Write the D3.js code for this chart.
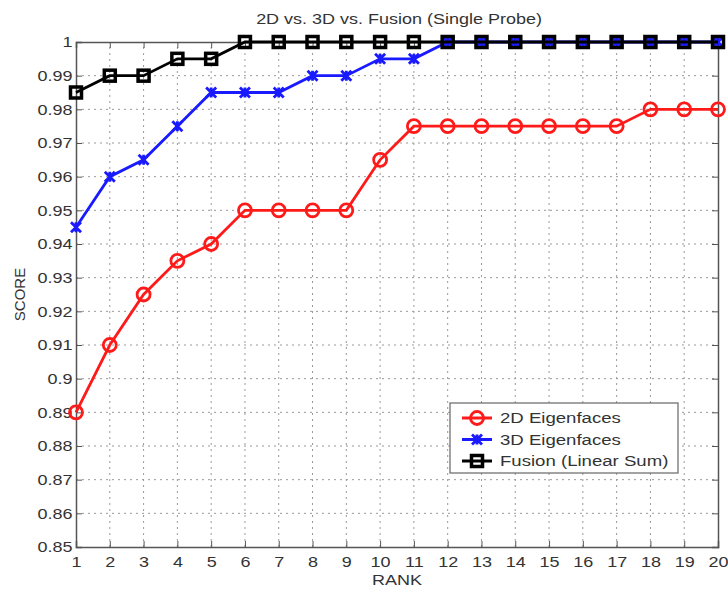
<!DOCTYPE html>
<html>
<head>
<meta charset="utf-8">
<title>2D vs. 3D vs. Fusion</title>
<style>
  body { margin: 0; background: #fff; }
  svg text { font-family: "Liberation Sans", Arial, sans-serif; fill: #333; }
  .grid line { stroke: #999; stroke-dasharray: 2,4; stroke-width: 1; }
  .axis path, .axis line { stroke: #555; }
</style>
</head>
<body>
<script src="https://cdnjs.cloudflare.com/ajax/libs/d3/7.8.5/d3.min.js"></script>
<script>
// データ
var ranks = d3.range(1, 21);
var yTicks = [0.85, 0.86, 0.87, 0.88, 0.89, 0.9, 0.91, 0.92, 0.93, 0.94, 0.95, 0.96, 0.97, 0.98, 0.99, 1];
var score2D = [0.89, 0.91, 0.925, 0.935, 0.94, 0.95, 0.95, 0.95, 0.95, 0.965, 0.975, 0.975, 0.975, 0.975, 0.975, 0.975, 0.975, 0.98, 0.98, 0.98];
var score3D = [0.945, 0.96, 0.965, 0.975, 0.985, 0.985, 0.985, 0.99, 0.99, 0.995, 0.995, 1, 1, 1, 1, 1, 1, 1, 1, 1];
var scoreFusion = [0.985, 0.99, 0.99, 0.995, 0.995, 1, 1, 1, 1, 1, 1, 1, 1, 1, 1, 1, 1, 1, 1, 1];
var seriesNames = ["2D Eigenfaces", "3D Eigenfaces", "Fusion (Linear Sum)"];
var seriesColors = ["#ff1a1a", "#1a1aff", "#000000"];
var titleText = "2D vs. 3D vs. Fusion (Single Probe)";

var width = 728, height = 589;
var margin = {left: 76, top: 42, right: 10, bottom: 42};
var sx = 1.2; // 元画像は横に引き伸ばされている

var svg = d3.select("body").append("svg")
    .attr("width", width)
    .attr("height", height);

var xScale = d3.scaleLinear().domain([1, 20]).range([margin.left, width - margin.right]);
var yScale = d3.scaleLinear().domain([0.85, 1]).range([height - margin.bottom, margin.top]);

// 横伸ばしテキスト
function wideText(parent, x, y, size, str, anchor) {
    return parent.append("text")
        .attr("x", x / sx).attr("y", y)
        .attr("transform", "scale(" + sx + ",1)")
        .attr("text-anchor", anchor || "start")
        .attr("font-size", size)
        .text(str);
}

// グリッド
svg.append("g").attr("class", "grid")
    .selectAll("line.v").data(ranks.slice(1, -1)).enter().append("line")
    .attr("x1", function(d) { return xScale(d); })
    .attr("x2", function(d) { return xScale(d); })
    .attr("y1", yScale(0.85)).attr("y2", yScale(1));
svg.append("g").attr("class", "grid")
    .selectAll("line.h").data(yTicks.slice(1, -1)).enter().append("line")
    .attr("x1", xScale(1)).attr("x2", xScale(20))
    .attr("y1", function(d) { return yScale(d); })
    .attr("y2", function(d) { return yScale(d); });

// 軸（目盛りは内向き）
var xAxis = d3.axisBottom(xScale).tickValues(ranks).tickFormat(d3.format("d")).tickSize(-6).tickPadding(9);
var yAxis = d3.axisLeft(yScale).tickValues(yTicks).tickFormat(function(d) { return d3.format("")(+d.toFixed(2)); }).tickSize(-6).tickPadding(3);
var xTop = d3.axisTop(xScale).tickValues(ranks).tickFormat("").tickSize(-6);
var yRight = d3.axisRight(yScale).tickValues(yTicks).tickFormat("").tickSize(-6);

svg.append("g").attr("class", "axis")
    .attr("transform", "translate(0," + yScale(0.85) + ")")
    .call(xAxis).call(function(g) {
        g.selectAll("text").attr("font-size", 15).attr("transform", "scale(" + sx + ",1)");
        g.select(".domain").attr("stroke-width", 1.5);
    });
svg.append("g").attr("class", "axis")
    .attr("transform", "translate(" + xScale(1) + ",0)")
    .call(yAxis).call(function(g) {
        g.selectAll("text").attr("font-size", 15).attr("transform", "scale(" + sx + ",1)");
        g.select(".domain").attr("stroke-width", 1.5);
    });
svg.append("g").attr("class", "axis")
    .attr("transform", "translate(0," + yScale(1) + ")")
    .call(xTop).call(function(g) { g.select(".domain").attr("stroke-width", 1.5); });
svg.append("g").attr("class", "axis")
    .attr("transform", "translate(" + xScale(20) + ",0)")
    .call(yRight).call(function(g) { g.select(".domain").attr("stroke-width", 1.5); });

// タイトルとラベル
var cx = (xScale(1) + xScale(20)) / 2;
wideText(svg, cx + 2, 24, 15, titleText, "middle");
wideText(svg, cx, 585, 15, "RANK", "middle");
svg.append("text").attr("transform", "translate(25," + yScale(0.925) + ") rotate(-90)")
    .attr("text-anchor", "middle").attr("font-size", 15).text("SCORE");

// ライン
var allData = [score2D, score3D, scoreFusion];
var line = d3.line()
    .x(function(d, i) { return xScale(ranks[i]); })
    .y(function(d) { return yScale(d); });

function drawMarker(g, type, color) {
    if (type === 0) {
        g.append("circle").attr("r", 6.5).attr("fill", "none").attr("stroke", color).attr("stroke-width", 2.8);
    } else if (type === 1) {
        g.append("path").attr("d", "M-5,-5L5,5M-5,5L5,-5M0,-5L0,5")
            .attr("fill", "none").attr("stroke", color).attr("stroke-width", 2.8);
    } else {
        g.append("rect").attr("x", -5.5).attr("y", -5.5).attr("width", 11).attr("height", 11)
            .attr("fill", "none").attr("stroke", color).attr("stroke-width", 3.5);
    }
}

allData.forEach(function(data, s) {
    svg.append("path").datum(data)
        .attr("fill", "none")
        .attr("stroke", seriesColors[s])
        .attr("stroke-width", 2.8)
        .attr("d", line);
    svg.append("g").selectAll("g").data(data).enter().append("g")
        .attr("transform", function(d, i) { return "translate(" + xScale(ranks[i]) + "," + yScale(d) + ")"; })
        .each(function() { drawMarker(d3.select(this), s, seriesColors[s]); });
});

// 凡例
var legend = svg.append("g").attr("transform", "translate(450,403)");
legend.append("rect").attr("width", 228).attr("height", 70)
    .attr("fill", "#fff").attr("stroke", "#666").attr("stroke-width", 1.2);
seriesNames.forEach(function(name, i) {
    var row = legend.append("g").attr("transform", "translate(0," + (15 + i * 21.5) + ")");
    row.append("line").attr("x1", 12).attr("x2", 42).attr("y1", 0).attr("y2", 0)
        .attr("stroke", seriesColors[i]).attr("stroke-width", 3);
    var m = row.append("g").attr("transform", "translate(27,0)");
    drawMarker(m, i, seriesColors[i]);
    wideText(row, 50, 0, 15.5, name).attr("dy", "0.35em");
});
</script>
</body>
</html>
